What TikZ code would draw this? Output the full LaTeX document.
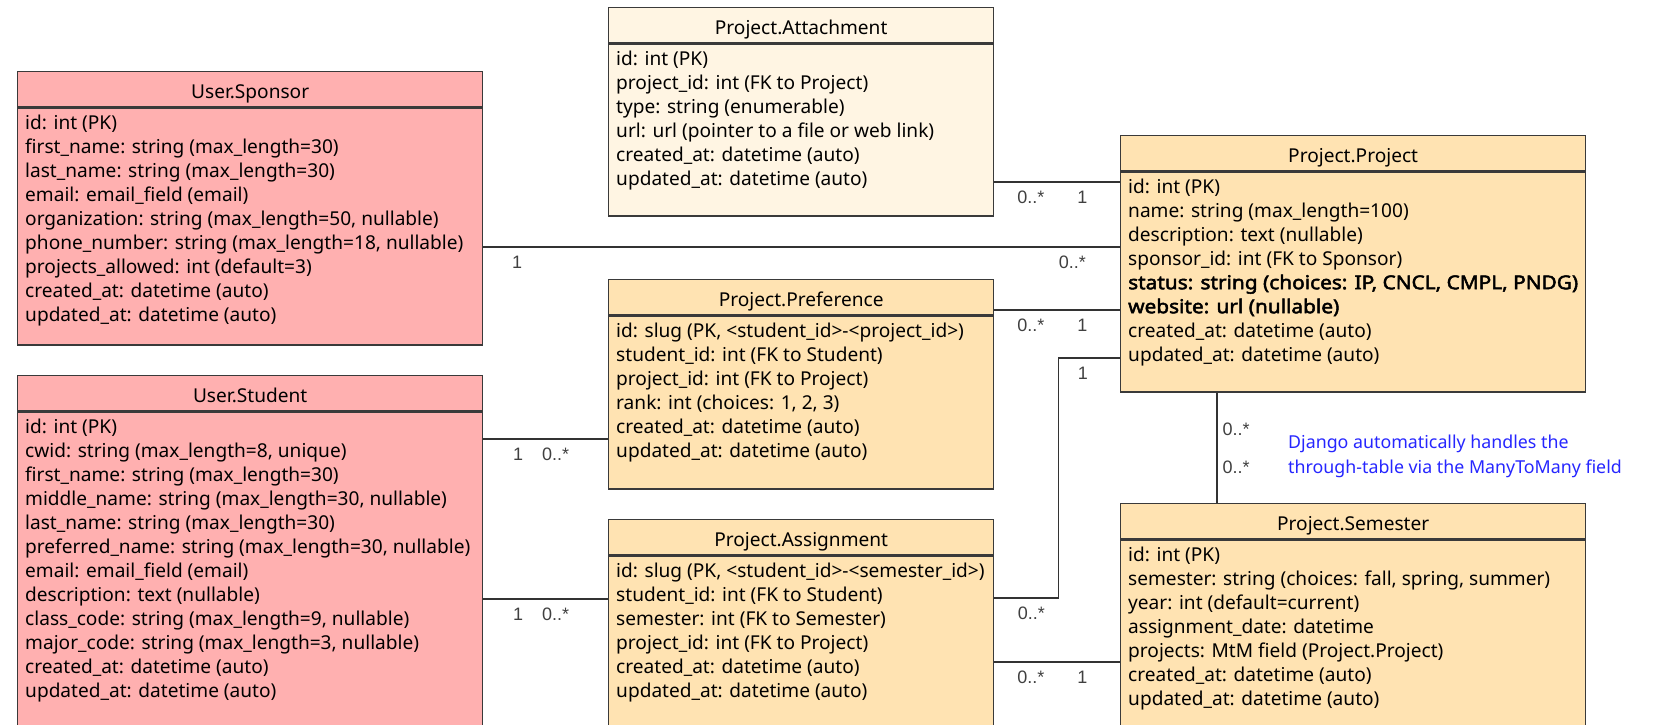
\documentclass[tikz,border=0pt]{standalone}
\usepackage{fontspec}
\setmainfont{Noto Sans}[AutoFakeBold=2.5]
\newfontfamily\multfont{Liberation Sans}
\newfontfamily\boldfield{Noto Sans}[FakeBold=2.5, FakeStretch=1.09]
\usetikzlibrary{positioning}

\definecolor{userfill}{HTML}{FFB0B0}
\definecolor{projfill}{HTML}{FFE3B2}
\definecolor{attfill}{HTML}{FFF5E3}
\definecolor{boxline}{HTML}{3A3A3A}
\definecolor{notecol}{HTML}{2626FF}

\begin{document}
\begin{tikzpicture}[x=1pt, y=-1pt,
    hdr/.style={draw=boxline, line width=1.3pt, anchor=north west, minimum height=35pt,
      text height=18.4pt, text depth=0pt, font=\fontsize{19.1}{24}\selectfont},
    frame/.style={draw=boxline, line width=1.3pt, minimum height=#1},
    fields/.style={anchor=north west, inner sep=0pt, align=left,
      font=\fontsize{19.1}{24}\selectfont, execute at begin node=\strut},
    mult/.style={below=8pt, inner sep=0pt, font=\multfont\fontsize{18}{18}\selectfont, text=black!75},
    multr/.style={right=5pt, inner sep=0pt, font=\multfont\fontsize{18}{18}\selectfont, text=black!75}]

  \useasboundingbox (0,0) rectangle (1673,725);

  % users
  \node[hdr, fill=userfill, minimum width=465pt] (spon-h) at (17,71) {User.Sponsor};
  \node[frame=237pt, fill=userfill, minimum width=465pt, below=0pt of spon-h] (spon) {};
  \node[fields, below right=7.2pt and 8pt of spon.north west] (spon-f) {id: int (PK)\\
    first\_name: string (max\_length=30)\\
    last\_name: string (max\_length=30)\\
    email: email\_field (email)\\
    organization: string (max\_length=50, nullable)\\
    phone\_number: string (max\_length=18, nullable)\\
    projects\_allowed: int (default=3)\\
    created\_at: datetime (auto)\\
    updated\_at: datetime (auto)};

  \node[hdr, fill=userfill, minimum width=465pt] (stud-h) at (17,375) {User.Student};
  \node[frame=370pt, fill=userfill, minimum width=465pt, below=0pt of stud-h] (stud) {};
  \node[fields, below right=7.2pt and 8pt of stud.north west] (stud-f) {id: int (PK)\\
    cwid: string (max\_length=8, unique)\\
    first\_name: string (max\_length=30)\\
    middle\_name: string (max\_length=30, nullable)\\
    last\_name: string (max\_length=30)\\
    preferred\_name: string (max\_length=30, nullable)\\
    email: email\_field (email)\\
    description: text (nullable)\\
    class\_code: string (max\_length=9, nullable)\\
    major\_code: string (max\_length=3, nullable)\\
    created\_at: datetime (auto)\\
    updated\_at: datetime (auto)};

  % project app
  \node[hdr, fill=attfill, minimum width=385pt] (att-h) at (608,7) {Project.Attachment};
  \node[frame=172pt, fill=attfill, minimum width=385pt, below=0pt of att-h] (att) {};
  \node[fields, below right=7.2pt and 8pt of att.north west] (att-f) {id: int (PK)\\
    project\_id: int (FK to Project)\\
    type: string (enumerable)\\
    url: url (pointer to a file or web link)\\
    created\_at: datetime (auto)\\
    updated\_at: datetime (auto)};

  \node[hdr, fill=projfill, minimum width=385pt] (pref-h) at (608,279) {Project.Preference};
  \node[frame=173pt, fill=projfill, minimum width=385pt, below=0pt of pref-h] (pref) {};
  \node[fields, below right=7.2pt and 8pt of pref.north west] (pref-f) {id: slug (PK, <student\_id>-<project\_id>)\\
    student\_id: int (FK to Student)\\
    project\_id: int (FK to Project)\\
    rank: int (choices: 1, 2, 3)\\
    created\_at: datetime (auto)\\
    updated\_at: datetime (auto)};

  \node[hdr, fill=projfill, minimum width=385pt] (asg-h) at (608,519) {Project.Assignment};
  \node[frame=230pt, fill=projfill, minimum width=385pt, below=0pt of asg-h] (asg) {};
  \node[fields, below right=7.2pt and 8pt of asg.north west] (asg-f) {id: slug (PK, <student\_id>-<semester\_id>)\\
    student\_id: int (FK to Student)\\
    semester: int (FK to Semester)\\
    project\_id: int (FK to Project)\\
    created\_at: datetime (auto)\\
    updated\_at: datetime (auto)};

  \node[hdr, fill=projfill, minimum width=465pt] (proj-h) at (1120,135) {Project.Project};
  \node[frame=220pt, fill=projfill, minimum width=465pt, below=0pt of proj-h] (proj) {};
  \node[fields, below right=7.2pt and 8pt of proj.north west] (proj-f) {id: int (PK)\\
    name: string (max\_length=100)\\
    description: text (nullable)\\
    sponsor\_id: int (FK to Sponsor)\\
    {\boldfield status: string (choices: IP, CNCL, CMPL, PNDG)}\\
    {\boldfield website: url (nullable)}\\
    created\_at: datetime (auto)\\
    updated\_at: datetime (auto)};

  \node[hdr, fill=projfill, minimum width=465pt] (sem-h) at (1120,503) {Project.Semester};
  \node[frame=230pt, fill=projfill, minimum width=465pt, below=0pt of sem-h] (sem) {};
  \node[fields, below right=7.2pt and 8pt of sem.north west] (sem-f) {id: int (PK)\\
    semester: string (choices: fall, spring, summer)\\
    year: int (default=current)\\
    assignment\_date: datetime\\
    projects: MtM field (Project.Project)\\
    created\_at: datetime (auto)\\
    updated\_at: datetime (auto)};

  \node[fields, anchor=west, execute at begin node={}, text=notecol,
    font=\fontsize{17.8}{24.5}\selectfont] (note) at (1288,458)
    {Django automatically handles the\\ through-table via the ManyToMany field};

  % relations
  \begin{scope}[every edge/.style={draw, line width=1.3pt, black!80}]
    \path (att.east |- 0,182)  edge node[mult, pos=.29] {0..*} node[mult, pos=.7] {1} (proj.west |- 0,182);
    \path (spon.east |- 0,247) edge node[mult, pos=.053] {1} node[mult, pos=.925] {0..*} (proj.west |- 0,247);
    \path (pref.east |- 0,310) edge node[mult, pos=.29] {0..*} node[mult, pos=.7] {1} (proj.west |- 0,310);
    \path (stud.east |- 0,439) edge node[mult, pos=.28] {1} node[mult, pos=.58] {0..*} (pref.west |- 0,439);
    \path (stud.east |- 0,599) edge node[mult, pos=.28] {1} node[mult, pos=.58] {0..*} (asg.west |- 0,599);
    \path (asg.east |- 0,662)  edge node[mult, pos=.29] {0..*} node[mult, pos=.7] {1} (sem.west |- 0,662);
    \path (proj.south -| 1217,0) edge node[multr, pos=.336] {0..*} node[multr, pos=.68] {0..*} (sem-h.north -| 1217,0);
  \end{scope}
  \draw[line width=1.3pt, black!80] (asg.east |- 0,598) -- node[mult, pos=.58] {0..*} ++(64,0)
    |- node[mult, pos=.7] {1} (proj.west |- 0,358);

\end{tikzpicture}
\end{document}
